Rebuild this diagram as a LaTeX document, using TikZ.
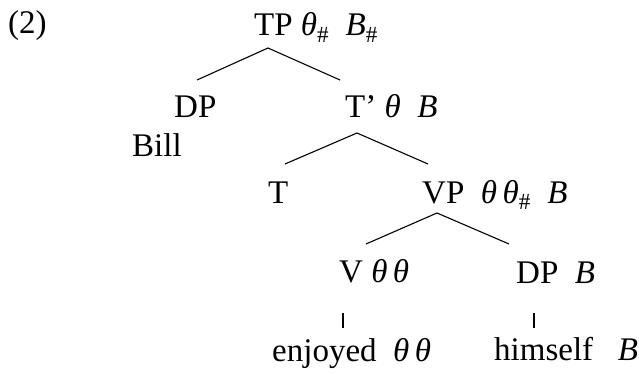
\documentclass[tikz,border=0pt]{standalone}
\usepackage{fontspec}
\setmainfont{Liberation Serif}
\begin{document}
\begin{tikzpicture}[x=1pt,y=-1pt,
  lab/.style={anchor=base west,inner sep=0pt,font=\fontsize{33}{38}\selectfont},
  edge/.style={line width=1.1pt}]
\useasboundingbox (0,0) rectangle (639,374);
\newcommand{\thx}{\textit{θ}}
\newcommand{\hs}{\textsubscript{\#}}
% labels
\node[lab] (ex) at (8,34) {(2)};
\node[lab] (tp) at (254,36) {TP \thx\hs\ \ \textit{B}\hs};
\node[lab] (dp1) at (174,118) {DP};
\node[lab] (bill) at (132,157) {Bill};
\node[lab] (tbar) at (345,118) {T’ \thx\ \ \textit{B}};
\node[lab] (t) at (268,203) {T};
\node[lab] (vp) at (422,203) {VP\ \ \thx\,\thx\hs\ \ \textit{B}};
\node[lab] (v) at (339,282) {V \thx\,\thx};
\node[lab] (dp2) at (516,283) {DP\ \ \textit{B}};
\node[lab] (enj) at (272,361) {enjoyed\ \ \thx\,\thx};
\node[lab] (him) at (494,360) {himself\ \ \ \textit{B}};
% branch points
\coordinate (tpA) at (268,48);
\coordinate (tpL) at (197,80);
\coordinate (tpR) at (340,80);
\coordinate (tbA) at (357,133);
\coordinate (tbL) at (285,164);
\coordinate (tbR) at (428,164);
\coordinate (vpA) at (437,213);
\coordinate (vpL) at (366,244);
\coordinate (vpR) at (509,244);
\coordinate (vT) at (343,313);
\coordinate (vB) at (343,328);
\coordinate (dT) at (534,313);
\coordinate (dB) at (534,328);
\draw[edge] (tpL) -- (tpA) -- (tpR);
\draw[edge] (tbL) -- (tbA) -- (tbR);
\draw[edge] (vpL) -- (vpA) -- (vpR);
\draw[line width=2pt] (vT) -- (vB);
\draw[line width=2pt] (dT) -- (dB);
\end{tikzpicture}
\end{document}
